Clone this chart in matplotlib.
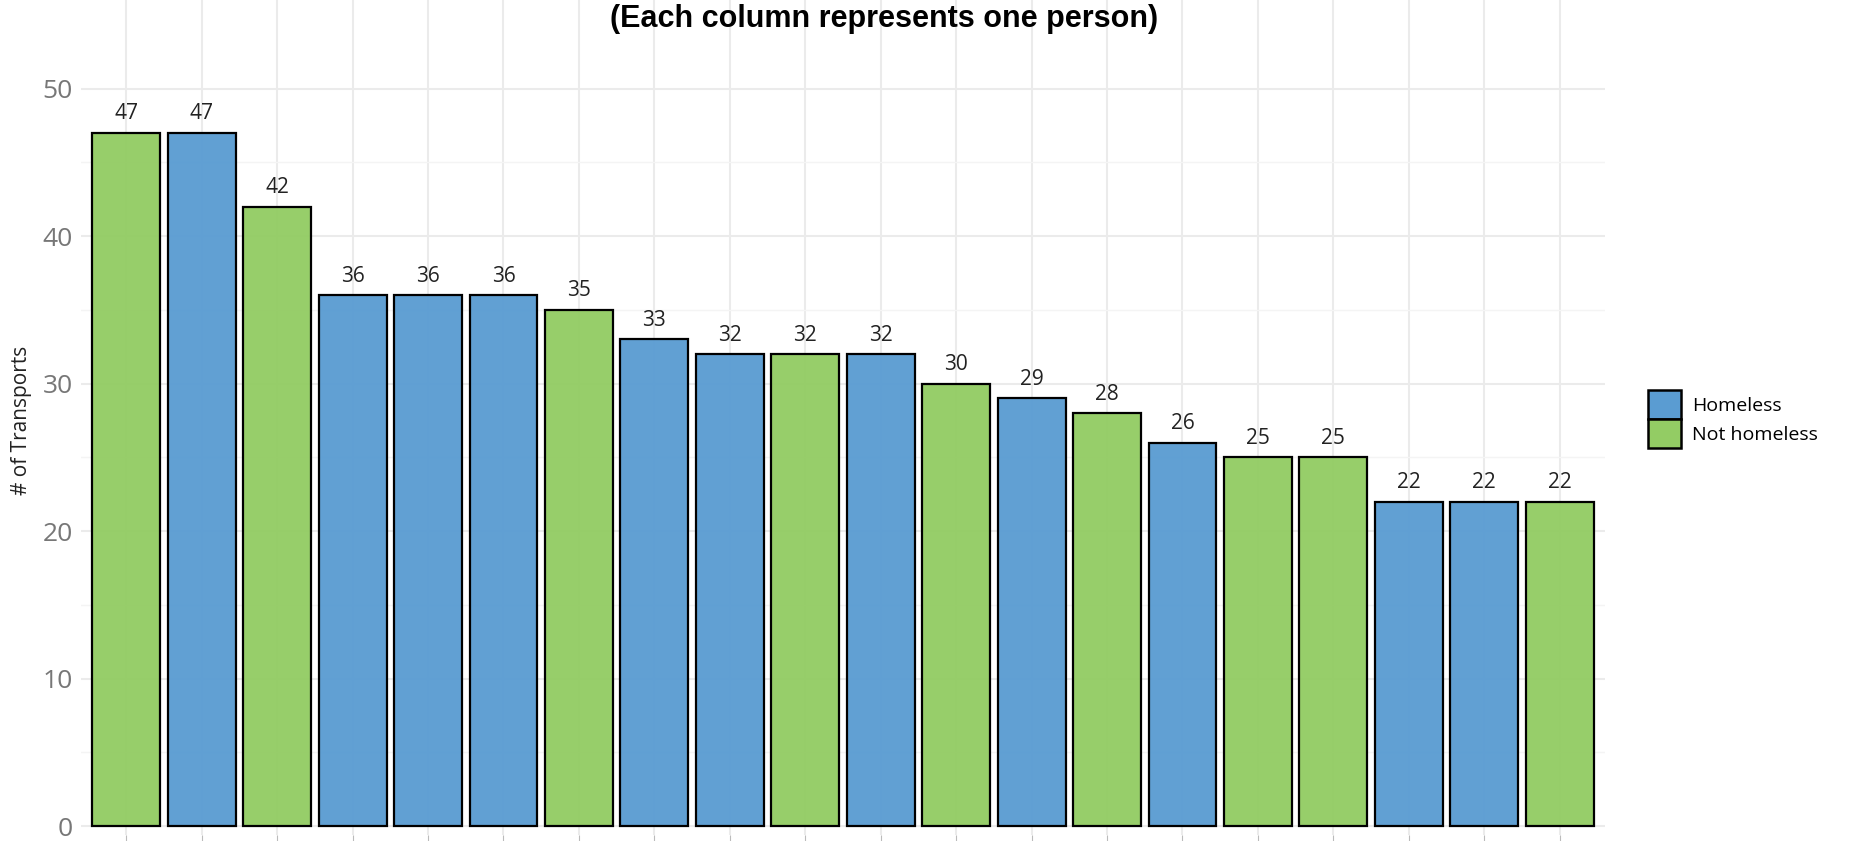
import matplotlib.pyplot as plt
from matplotlib.patches import Patch
from matplotlib.colors import to_rgba
import numpy as np

# one column per person, sorted by number of transports
transports = [47, 47, 42, 36, 36, 36, 35, 33, 32, 32, 32, 30, 29, 28, 26, 25, 25, 22, 22, 22]
status = ["Not homeless", "Homeless", "Not homeless", "Homeless", "Homeless", "Homeless",
          "Not homeless", "Homeless", "Homeless", "Not homeless", "Homeless", "Not homeless",
          "Homeless", "Not homeless", "Homeless", "Not homeless", "Not homeless",
          "Homeless", "Homeless", "Not homeless"]
groups = ["Homeless", "Not homeless"]
colors = {"Homeless": "#5A9CD2", "Not homeless": "#93CC64"}
yticks = [0, 10, 20, 30, 40, 50]

plt.rcParams['font.family'] = ['Open Sans', 'DejaVu Sans']

fig = plt.figure(figsize=(18.71, 8.41), dpi=100)
ax = fig.add_axes([0.0433, 0.0071, 0.8145, 0.9929])

x = np.arange(1, len(transports) + 1)
bar_cols = [to_rgba(colors[s], 0.96) for s in status]
bars = ax.bar(x, transports, width=0.9, color=bar_cols, edgecolor="black", linewidth=1.6, zorder=2)

for xi, v in zip(x, transports):
    ax.annotate(str(v), (xi, v), xytext=(0, 6), textcoords="offset points",
                ha="center", va="bottom", fontsize=15, color="#222222")

ax.set_xlim(0.4, len(transports) + 0.6)
ax.set_ylim(-0.6, 56)
ax.set_yticks(yticks)
ax.set_yticks([5, 15, 25, 35, 45], minor=True)
ax.set_xticks(x)
ax.set_xticklabels([])
ax.tick_params(axis="y", which="both", length=0, pad=6, labelsize=19, labelcolor="#777777")
ax.tick_params(axis="x", length=4, color="#BBBBBB", width=0.8)
ax.grid(True, which="major", color="#EBEBEB", linewidth=1.5, zorder=0)
ax.grid(True, which="minor", axis="y", color="#F4F4F4", linewidth=1.0, zorder=0)
ax.set_axisbelow(True)
for sp in ax.spines.values():
    sp.set_visible(False)

fig.text(22 / 1871, 1 - 420 / 841, "# of Transports", rotation=90, ha="center", va="center",
         fontsize=15, color="#222222")

fig.text(884 / 1871, 1 - 19 / 841, "(Each column represents one person)", ha="center", va="center",
         fontsize=22, fontweight="bold", family="Liberation Sans")

handles = [Patch(facecolor=colors[g], edgecolor="black", linewidth=1.8) for g in groups]
fig.legend(handles, groups, loc="center left", bbox_to_anchor=(1630 / 1871, 1 - 419 / 841),
           frameon=False, fontsize=14, handlelength=1.7, handleheight=1.9,
           labelspacing=0.0, handletextpad=0.6)

fig.savefig("out.png", dpi=100)
